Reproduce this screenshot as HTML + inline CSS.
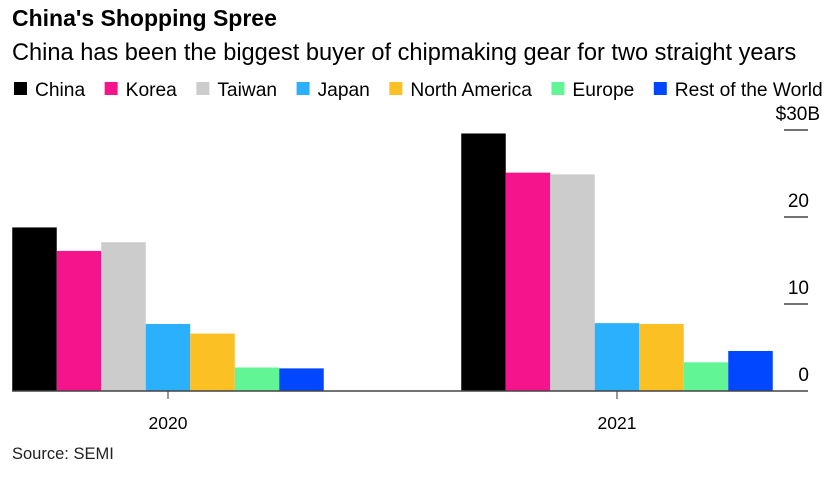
<!DOCTYPE html>
<html><head><meta charset="utf-8"><style>
body{margin:0;background:#fff;font-family:"Liberation Sans",Arial,sans-serif;}
#wrap{position:relative;width:839px;height:480px;overflow:hidden;}
.t{position:absolute;white-space:nowrap;}
</style></head><body>
<div id="wrap">
<div class="t" style="left:12px;top:5px;font-size:23px;font-weight:bold;color:#000;">China's Shopping Spree</div>
<div class="t" style="left:12px;top:40px;font-size:23.6px;color:#000;">China has been the biggest buyer of chipmaking gear for two straight years</div>
<div class="t" style="left:12px;top:445px;font-size:16.5px;color:#222;">Source: SEMI</div>
<svg id="chart" width="839" height="480" style="position:absolute;left:0;top:0"></svg>
</div>
<script>
const categories=["2020","2021"];
const seriesNames=["China","Korea","Taiwan","Japan","North America","Europe","Rest of the World"];
const colors=["#000000","#f5148c","#cccccc","#2bb0fd","#fbc023","#62f596","#0047ff"];
const values2020=[18.8,16.1,17.1,7.7,6.6,2.7,2.6];
const values2021=[29.6,25.1,24.9,7.8,7.7,3.3,4.6];
const yTicks=[0,10,20,30];
const yTickLabels=["0","10","20","$30B"];
const NS="http://www.w3.org/2000/svg";
const svg=document.getElementById("chart");
const series=[values2020,values2021];
const y0=391,pxPer=8.7;
function y(v){return y0-v*pxPer;}
const groupCenters=[168,617];
function xCenter(i){return groupCenters[0]+i*(groupCenters[1]-groupCenters[0]);}
const barW=44.5;
function mk(tag,attrs){const e=document.createElementNS(NS,tag);for(const k in attrs)e.setAttribute(k,attrs[k]);svg.appendChild(e);return e;}
// legend
let lx=14;
seriesNames.forEach((n,i)=>{
  const r=mk("rect",{x:lx,y:82,width:13,height:13,fill:colors[i]});
  
  
  const t=mk("text",{x:lx+21,y:96,"font-size":"19.2","font-family":"Liberation Sans, Arial, sans-serif",fill:"#000"});
  t.textContent=n;
  
  
  lx+=21+t.getComputedTextLength()+19.5;
});
// bars
categories.forEach((c,ci)=>{
  const start=xCenter(ci)-barW*seriesNames.length/2;
  series[ci].forEach((v,si)=>{
    const b=mk("rect",{x:start+si*barW,y:y(v),width:barW,height:y0-y(v),fill:colors[si]});
    
    
  });
  const tk=mk("line",{x1:xCenter(ci),x2:xCenter(ci),y1:y0,y2:y0+8,stroke:"#333","stroke-width":1});
  
  
  const tl=mk("text",{x:xCenter(ci),y:429,"text-anchor":"middle","font-size":"17.5","font-family":"Liberation Sans, Arial, sans-serif",fill:"#000"});
  tl.textContent=c;
  
  
});
// baseline
const base=mk("line",{x1:12,x2:808,y1:y0,y2:y0,stroke:"#444","stroke-width":1.5});


// y ticks
yTicks.forEach((v,i)=>{
  if(v>0){
    const l=mk("line",{x1:784,x2:808,y1:y(v),y2:y(v),stroke:"#444","stroke-width":1.5});
    
    
  }
  const t=mk("text",{x:v===30?820:809,y:y(v)-10,"text-anchor":"end","font-size":"19","font-family":"Liberation Sans, Arial, sans-serif",fill:"#000"});
  t.textContent=yTickLabels[i];
  
  
});
</script>
</body></html>
